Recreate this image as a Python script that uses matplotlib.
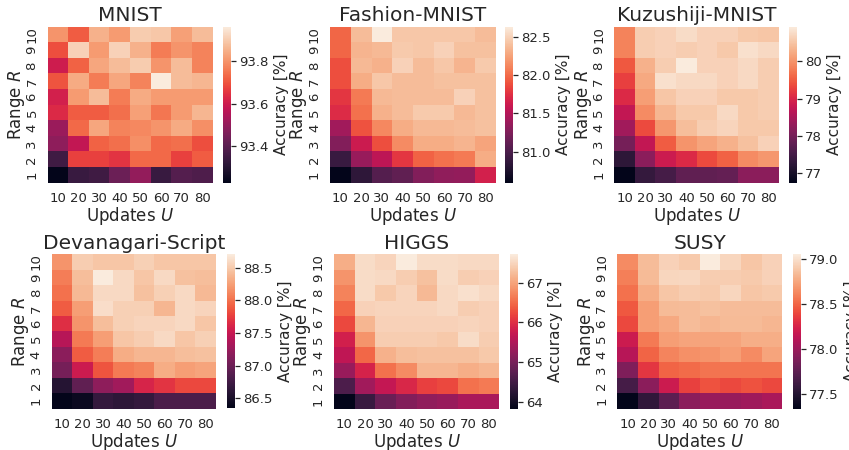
import matplotlib
matplotlib.use("Agg")
import matplotlib.pyplot as plt
import seaborn as sns
import numpy as np

updates = [10, 20, 30, 40, 50, 60, 70, 80]
ranges = [1, 2, 3, 4, 5, 6, 7, 8, 9, 10]

# rows are R = 1..10, columns U = 10..80
mnist = [
    [93.23, 93.34, 93.35, 93.43, 93.50, 93.34, 93.39, 93.38],
    [93.35, 93.67, 93.67, 93.65, 93.73, 93.73, 93.67, 93.71],
    [93.49, 93.58, 93.72, 93.74, 93.79, 93.73, 93.74, 93.69],
    [93.51, 93.73, 93.83, 93.77, 93.78, 93.80, 93.84, 93.79],
    [93.63, 93.71, 93.71, 93.74, 93.82, 93.75, 93.81, 93.86],
    [93.61, 93.81, 93.87, 93.76, 93.84, 93.81, 93.81, 93.81],
    [93.70, 93.84, 93.76, 93.83, 93.77, 93.96, 93.87, 93.86],
    [93.60, 93.72, 93.83, 93.87, 93.90, 93.80, 93.87, 93.77],
    [93.69, 93.91, 93.81, 93.91, 93.85, 93.76, 93.80, 93.77],
    [93.80, 93.71, 93.85, 93.81, 93.90, 93.89, 93.82, 93.87],
]
fashion = [
    [80.59, 80.84, 81.04, 81.10, 81.27, 81.33, 81.35, 81.66],
    [80.90, 81.37, 81.55, 81.78, 81.96, 82.03, 82.07, 82.31],
    [81.27, 81.62, 81.88, 82.15, 82.31, 82.31, 82.35, 82.27],
    [81.41, 81.90, 82.13, 82.31, 82.37, 82.37, 82.39, 82.41],
    [81.72, 82.03, 82.33, 82.39, 82.46, 82.46, 82.37, 82.41],
    [81.78, 82.07, 82.37, 82.39, 82.39, 82.39, 82.50, 82.41],
    [81.88, 82.31, 82.44, 82.39, 82.39, 82.41, 82.41, 82.41],
    [81.88, 82.37, 82.33, 82.50, 82.39, 82.44, 82.35, 82.46],
    [81.98, 82.35, 82.37, 82.46, 82.44, 82.50, 82.41, 82.41],
    [81.98, 82.39, 82.64, 82.44, 82.44, 82.44, 82.44, 82.39],
]
kuzushiji = [
    [76.75, 77.33, 77.50, 77.79, 77.79, 77.83, 78.21, 78.21],
    [77.25, 78.21, 78.84, 79.04, 79.34, 79.54, 79.92, 80.04],
    [78.00, 78.75, 79.50, 80.00, 80.17, 80.29, 80.46, 80.63],
    [78.42, 79.34, 80.04, 80.42, 80.59, 80.67, 80.54, 80.54],
    [78.75, 79.92, 80.34, 80.54, 80.54, 80.71, 80.54, 80.59],
    [79.04, 80.09, 80.50, 80.63, 80.63, 80.54, 80.54, 80.59],
    [79.25, 80.21, 80.79, 80.71, 80.71, 80.63, 80.71, 80.59],
    [79.46, 80.29, 80.59, 80.92, 80.63, 80.63, 80.71, 80.59],
    [79.84, 80.59, 80.63, 80.59, 80.63, 80.54, 80.79, 80.71],
    [79.84, 80.59, 80.63, 80.75, 80.63, 80.63, 80.54, 80.50],
]
devanagari = [
    [86.34, 86.41, 86.67, 86.62, 86.67, 86.81, 86.81, 86.81],
    [86.58, 86.93, 87.19, 87.29, 87.60, 87.71, 87.81, 87.81],
    [87.05, 87.53, 87.86, 88.05, 88.09, 88.33, 88.24, 88.28],
    [87.17, 87.90, 88.07, 88.33, 88.38, 88.38, 88.43, 88.45],
    [87.41, 88.05, 88.24, 88.47, 88.52, 88.59, 88.47, 88.54],
    [87.67, 88.19, 88.43, 88.54, 88.57, 88.57, 88.59, 88.47],
    [87.90, 88.24, 88.62, 88.54, 88.54, 88.38, 88.59, 88.57],
    [88.00, 88.40, 88.59, 88.59, 88.45, 88.54, 88.59, 88.40],
    [88.07, 88.43, 88.71, 88.59, 88.47, 88.59, 88.45, 88.43],
    [88.19, 88.52, 88.47, 88.47, 88.54, 88.47, 88.47, 88.47],
]
higgs = [
    [63.82, 64.40, 64.87, 65.10, 65.22, 65.30, 65.45, 65.45],
    [64.60, 65.38, 65.69, 65.92, 66.15, 66.23, 66.54, 66.62],
    [65.30, 65.88, 66.54, 66.78, 67.17, 67.17, 67.09, 67.17],
    [65.65, 66.47, 67.13, 67.24, 67.28, 67.28, 67.28, 67.36],
    [65.84, 66.85, 67.40, 67.40, 67.40, 67.36, 67.55, 67.40],
    [66.23, 67.17, 67.44, 67.44, 67.44, 67.44, 67.48, 67.44],
    [66.47, 67.44, 67.48, 67.48, 67.48, 67.52, 67.40, 67.44],
    [66.70, 67.55, 67.36, 67.48, 67.20, 67.52, 67.59, 67.52],
    [66.85, 67.55, 67.52, 67.40, 67.28, 67.55, 67.40, 67.44],
    [67.09, 67.55, 67.48, 67.71, 67.55, 67.55, 67.52, 67.52],
]
susy = [
    [77.34, 77.56, 77.75, 77.94, 77.99, 77.99, 78.02, 78.06],
    [77.65, 77.94, 78.20, 78.37, 78.43, 78.40, 78.43, 78.40],
    [77.89, 78.33, 78.49, 78.52, 78.55, 78.55, 78.55, 78.55],
    [78.11, 78.49, 78.61, 78.66, 78.67, 78.71, 78.64, 78.74],
    [78.20, 78.57, 78.71, 78.74, 78.74, 78.74, 78.78, 78.78],
    [78.40, 78.71, 78.76, 78.84, 78.81, 78.83, 78.83, 78.81],
    [78.45, 78.71, 78.83, 78.84, 78.86, 78.84, 78.84, 78.84],
    [78.54, 78.78, 78.88, 78.91, 78.90, 78.95, 78.88, 78.90],
    [78.59, 78.83, 78.95, 78.96, 78.91, 78.91, 78.90, 78.93],
    [78.64, 78.84, 78.93, 78.90, 79.05, 78.95, 78.88, 78.93],
]

titles = ["MNIST", "Fashion-MNIST", "Kuzushiji-MNIST",
          "Devanagari-Script", "HIGGS", "SUSY"]
datasets = [mnist, fashion, kuzushiji, devanagari, higgs, susy]
cbar_ticks = [[93.4, 93.6, 93.8], [81.0, 81.5, 82.0, 82.5], [77, 78, 79, 80],
              [86.5, 87.0, 87.5, 88.0, 88.5], [64, 65, 66, 67], [77.5, 78.0, 78.5, 79.0]]
cbar_fmt = ["{:.1f}", "{:.1f}", "{:.0f}", "{:.1f}", "{:.0f}", "{:.1f}"]

# pixel boxes of the heatmaps (left, top, right, bottom) and colorbar left edge
boxes = [(47.5, 26.7, 212.7, 182.7), (330, 26.7, 496, 182.7), (614.3, 26.7, 779, 182.7),
         (51.7, 254.3, 216, 408.5), (334, 254.3, 499.3, 409), (617.3, 254.3, 782.3, 408.7)]
cbar_left = [223, 505, 789, 227, 510, 793]

W, H = 849, 450
dark = "#262626"
plt.rcParams["font.family"] = ["DejaVu Sans"]
plt.rcParams["text.color"] = dark
plt.rcParams["axes.labelcolor"] = dark
plt.rcParams["xtick.color"] = dark
plt.rcParams["ytick.color"] = dark

cmap = sns.color_palette("rocket", as_cmap=True)

fig = plt.figure(figsize=(W / 100, H / 100), dpi=100)


def rect(x0, y0, x1, y1):
    return [x0 / W, 1 - y1 / H, (x1 - x0) / W, (y1 - y0) / H]


for i in range(6):
    x0, y0, x1, y1 = boxes[i]
    ax = fig.add_axes(rect(x0, y0, x1, y1))
    data = np.array(datasets[i])
    mesh = ax.pcolormesh(np.arange(len(updates) + 1), np.arange(len(ranges) + 1),
                         data, cmap=cmap, vmin=data.min(), vmax=data.max())
    ax.set_xticks(np.arange(len(updates)) + 0.5)
    ax.set_xticklabels([str(u) for u in updates], fontsize=9.5)
    ax.set_yticks(np.arange(len(ranges)) + 0.5)
    ax.set_yticklabels([str(r) for r in ranges], fontsize=9.5, rotation=90, va="center")
    ax.tick_params(length=0, pad=6.5)
    for s in ax.spines.values():
        s.set_visible(False)
    ax.set_xlabel("Updates $U$", fontsize=12, labelpad=0)
    ax.set_ylabel("Range $R$", fontsize=12, labelpad=-1)
    ax.set_title(titles[i], fontsize=14.5, pad=4)

    cax = fig.add_axes(rect(cbar_left[i], y0, cbar_left[i] + 8, y1))
    cb = fig.colorbar(mesh, cax=cax)
    cb.outline.set_visible(False)
    cb.set_ticks(cbar_ticks[i])
    cb.set_ticklabels([cbar_fmt[i].format(t) for t in cbar_ticks[i]])
    cb.ax.tick_params(labelsize=9.5, length=3.5, width=0.9, pad=2)
    cb.set_label("Accuracy [%]", fontsize=11, labelpad=4)

fig.savefig("out.png", dpi=100)
